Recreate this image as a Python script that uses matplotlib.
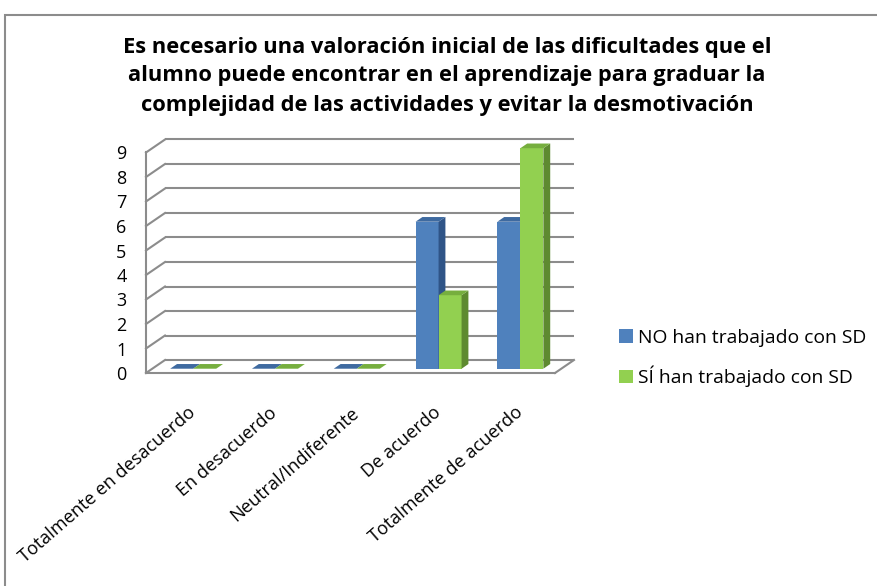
import matplotlib
matplotlib.use("Agg")
import matplotlib.pyplot as plt
from matplotlib.patches import Polygon, Rectangle, Patch
from matplotlib.font_manager import FontProperties

# ---- data ----
categories = ["Totalmente en desacuerdo", "En desacuerdo", "Neutral/Indiferente",
              "De acuerdo", "Totalmente de acuerdo"]
no_sd = [0, 0, 0, 6, 6]
si_sd = [0, 0, 0, 3, 9]
series_labels = ["NO han trabajado con SD", "SÍ han trabajado con SD"]
title_lines = ["Es necesario una valoración inicial de las dificultades que el",
               "alumno puede encontrar en el aprendizaje para graduar la",
               "complejidad de las actividades y evitar la desmotivación"]
yticks = list(range(10))

# ---- style ----
FONT = "Open Sans"
plt.rcParams["font.family"] = [FONT, "DejaVu Sans"]
grid_c = "#8c8c8c"
front_c = ["#4F81BD", "#92D050"]
side_c = ["#2F5487", "#5E8A30"]
top_c = ["#3E6AA0", "#76AE3E"]

W, H = 877, 586
fig = plt.figure(figsize=(W / 100, H / 100), dpi=100)
renderer = fig.canvas.get_renderer()


def fit_size(s, target_px, weight="normal", base=12.0):
    fp = FontProperties(family=[FONT, "DejaVu Sans"], weight=weight, size=base)
    w, h, d = renderer.get_text_width_height_descent(s, fp, ismath=False)
    return base * target_px / w


title_fs = fit_size(title_lines[0], 650, weight="bold")
label_fs = fit_size(categories[0], 226)
legend_fs = fit_size(series_labels[0], 227)
tick_fs = 13

# pixel geometry of the plot area
px_unit_x = 81.8
px_unit_y = 24.5
dx_px, dy_px = 19.0, 13.0
DX = dx_px / px_unit_x
DY = dy_px / px_unit_y
n = len(categories)
ymax = max(yticks)
left_px, bottom_px = 146, 373
ax_w_px = (n + DX) * px_unit_x
ax_h_px = (ymax + DY) * px_unit_y
ax = fig.add_axes([left_px / W, (H - bottom_px) / H, ax_w_px / W, ax_h_px / H])
ax.set_xlim(0, n + DX)
ax.set_ylim(0, ymax + DY)
ax.patch.set_visible(False)
for s in ax.spines.values():
    s.set_visible(False)

# walls / grid
lw = 1.5
for v in yticks:
    ax.plot([DX, n + DX], [v + DY, v + DY], color=grid_c, lw=lw, zorder=1,
            solid_capstyle="butt", clip_on=False)
    ax.plot([0, DX], [v, v + DY], color=grid_c, lw=lw, zorder=1, clip_on=False)
ax.plot([0, 0], [0, ymax], color=grid_c, lw=lw, zorder=1, clip_on=False)
ax.plot([0, n], [0, 0], color=grid_c, lw=lw, zorder=1, clip_on=False)
ax.plot([n, n + DX], [0, DY], color=grid_c, lw=lw, zorder=1, clip_on=False)

# bars
w = 23 / px_unit_x
offx, offy = 0.33 * DX, 0.33 * DY
bdx, bdy = 0.36 * DX, 0.36 * DY
centers = [i + 0.5 for i in range(n)]
for k, vals in enumerate([no_sd, si_sd]):
    x0s = [c - w + k * w + offx for c in centers]
    ax.bar(x0s, vals, width=w, bottom=offy, align="edge", color=front_c[k],
           linewidth=0, zorder=3 + k)
    for x0, v in zip(x0s, vals):
        x1 = x0 + w
        b = offy
        if v > 0:
            ax.add_patch(Polygon([(x1, b), (x1 + bdx, b + bdy), (x1 + bdx, b + v + bdy),
                                  (x1, b + v)], closed=True, facecolor=side_c[k],
                                 edgecolor="none", zorder=3 + k))
        ax.add_patch(Polygon([(x0, b + v), (x0 + bdx, b + v + bdy), (x1 + bdx, b + v + bdy),
                              (x1, b + v)], closed=True, facecolor=top_c[k],
                             edgecolor="none", zorder=3 + k))

# ticks
ax.set_yticks(yticks)
ax.set_yticklabels([str(t) for t in yticks], fontsize=tick_fs)
ax.tick_params(axis="y", length=0, pad=14)
ax.set_xticks(centers)
ax.set_xticklabels(categories, rotation=41, ha="right", rotation_mode="anchor",
                   fontsize=label_fs)
ax.tick_params(axis="x", length=0, pad=22)

# title
for i, line in enumerate(title_lines):
    fig.text(447 / W, 1 - (47 + 29 * i) / H, line, ha="center", va="center",
             fontsize=title_fs, fontweight="bold")

# legend
handles = [Patch(facecolor=front_c[k], edgecolor="none") for k in range(2)]
fig.legend(handles, series_labels, loc="center left",
           bbox_to_anchor=(602 / W, 1 - 358 / H), frameon=False, fontsize=legend_fs,
           handlelength=0.7, handleheight=0.7, handletextpad=0.25, labelspacing=1.0)

# outer border
fig.add_artist(Rectangle((5 / W, -0.05), 1.2, (H - 15) / H + 0.05,
                         transform=fig.transFigure, fill=False,
                         edgecolor="#8c8c8c", lw=1.5))

fig.savefig("out.png", dpi=100)
